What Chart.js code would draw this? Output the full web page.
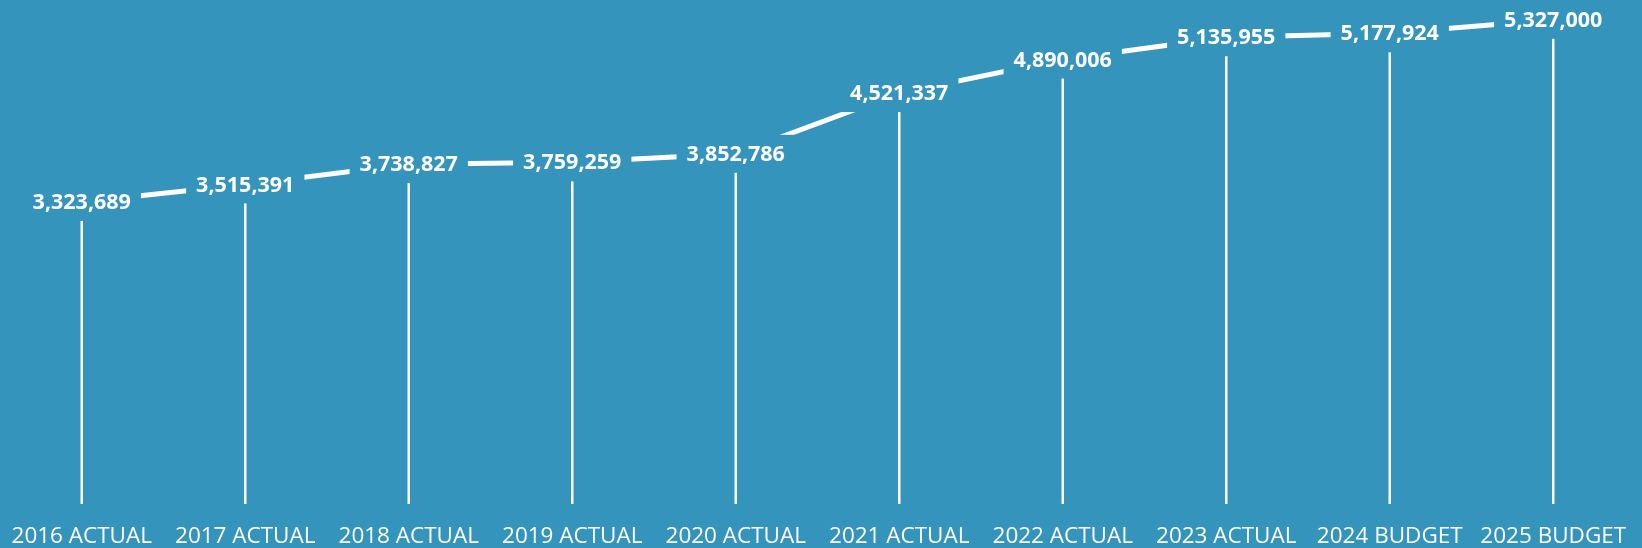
<!DOCTYPE html>
<html>
<head>
<meta charset="utf-8">
<title>Actual and Budget</title>
<script src="https://cdn.jsdelivr.net/npm/chart.js@4/dist/chart.umd.min.js"></script>
<style>
  html, body { margin: 0; padding: 0; background: #3594bb; }
  #wrap { width: 1642px; height: 548px; position: relative; }
</style>
</head>
<body>
<div id="wrap"><canvas id="trendChart"></canvas></div>
<script>
const years = ['2016 ACTUAL', '2017 ACTUAL', '2018 ACTUAL', '2019 ACTUAL', '2020 ACTUAL',
               '2021 ACTUAL', '2022 ACTUAL', '2023 ACTUAL', '2024 BUDGET', '2025 BUDGET'];
const amounts = [3323689, 3515391, 3738827, 3759259, 3852786, 4521337, 4890006, 5135955, 5177924, 5327000];
const yMin = 0;
const yMax = 5545000;

const bgColor = '#3594bb';

// drop lines + boxed value labels on each point
const valueLabels = {
    id: 'valueLabels',
    afterDatasetsDraw(chart) {
        const ctx = chart.ctx;
        const meta = chart.getDatasetMeta(0);
        const base = chart.scales.y.getPixelForValue(0);
        ctx.save();
        ctx.strokeStyle = '#ffffff';
        ctx.lineWidth = 2.5;
        meta.data.forEach(pt => {
            ctx.beginPath();
            ctx.moveTo(pt.x, pt.y);
            ctx.lineTo(pt.x, base);
            ctx.stroke();
        });
        ctx.font = 'bold 21.5px "Open Sans"';
        ctx.textAlign = 'center';
        ctx.textBaseline = 'middle';
        meta.data.forEach((pt, i) => {
            const txt = amounts[i].toLocaleString('en-US');
            const w = ctx.measureText(txt).width + 20;
            const h = 38;
            ctx.fillStyle = bgColor;
            ctx.fillRect(pt.x - w / 2, pt.y - h / 2, w, h);
            ctx.fillStyle = '#ffffff';
            ctx.fillText(txt, pt.x, pt.y + 1);
        });
        ctx.restore();
    }
};

const ctx = document.getElementById('trendChart').getContext('2d');
new Chart(ctx, {
    type: 'line',
    data: {
        labels: years,
        datasets: [{
            data: amounts,
            borderColor: '#ffffff',
            borderWidth: 5,
            pointRadius: 0,
            tension: 0,
            fill: false
        }]
    },
    options: {
        responsive: true,
        maintainAspectRatio: false,
        animation: false,
        layout: { padding: { left: -5, right: 7, top: 0, bottom: 0 } },
        plugins: { legend: { display: false }, tooltip: { enabled: false } },
        scales: {
            x: {
                offset: true,
                border: { display: false },
                grid: { display: false },
                ticks: {
                    color: '#ffffff',
                    font: { family: '"Open Sans"', size: 22.5 },
                    padding: 11,
                    maxRotation: 0,
                    autoSkip: false
                },
                // keep the plot bottom at the baseline, labels sit below it
                afterFit(scale) {
                    scale.height = 44;
                    scale.paddingLeft = 0;
                    scale.paddingRight = 0;
                }
            },
            y: {
                display: false,
                min: yMin,
                max: yMax
            }
        }
    },
    plugins: [valueLabels]
});
</script>
</body>
</html>
